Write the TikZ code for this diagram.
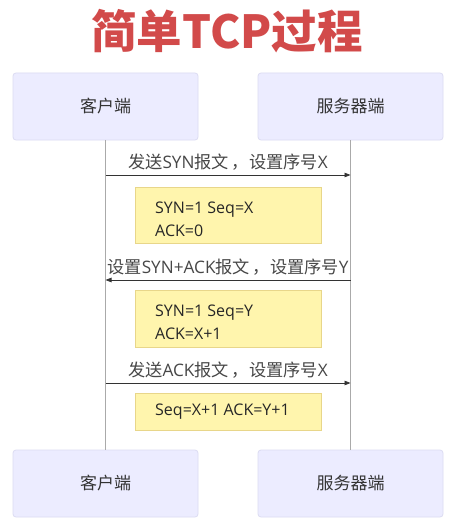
\documentclass[tikz,border=0pt]{standalone}
\usepackage{fontspec}
\setmainfont{Noto Sans CJK SC}
\newfontfamily\lat{Open Sans}
\usetikzlibrary{arrows.meta}
\definecolor{actfill}{HTML}{ECECFF}
\definecolor{actline}{HTML}{DCDCF2}
\definecolor{notefill}{HTML}{FFF5AD}
\definecolor{noteline}{HTML}{E8D68A}
\definecolor{titlered}{HTML}{D24A4A}
\definecolor{msgline}{HTML}{333333}
\definecolor{lifeline}{HTML}{AAAAAA}
\newcommand{\cm}{\hspace{3pt}，}
\begin{document}
\begin{tikzpicture}[x=1pt,y=-1pt,
  actor/.style={draw=actline,fill=actfill,rounded corners=3pt,line width=0.8pt,minimum width=185pt,minimum height=67pt,inner sep=0pt,font=\fontsize{17}{19}\selectfont,text=black!80},
  note/.style={draw=noteline,fill=notefill,line width=0.8pt,minimum width=186pt,inner sep=0pt},
  notetext/.style={anchor=west,font=\lat\fontsize{16}{18}\selectfont,text=black!85,inner sep=0pt},
  msg/.style={draw=msgline,line width=0.8pt,-{Triangle[length=6pt,width=4.5pt]}},
  msgtext/.style={font=\fontsize{17.2}{19}\selectfont,text=black!72,inner sep=0pt},
  life/.style={draw=lifeline,line width=0.8pt}]
\useasboundingbox (0,0) rectangle (454,524);
\fill[white] (0,0) rectangle (454,524);
\node[font=\fontsize{45.5}{48}\selectfont\bfseries,text=titlered] (title) at (227,31) {简单TCP过程};
\node[actor] (c1) at (105.5,106.5) {客户端};
\node[actor] (s1) at (350.5,106.5) {服务器端};
\node[actor] (c2) at (105.5,483.5) {客户端};
\node[actor] (s2) at (350.5,483.5) {服务器端};
\draw[life] (c1.south) -- (c2.north);
\draw[life] (s1.south) -- (s2.north);
\coordinate (a1l) at (105.5,175); \coordinate (a1r) at (350.5,175);
\coordinate (a2l) at (105.5,280); \coordinate (a2r) at (350.5,280);
\coordinate (a3l) at (105.5,383); \coordinate (a3r) at (350.5,383);
\draw[msg] (a1l) -- (a1r);
\draw[msg] (a2r) -- (a2l);
\draw[msg] (a3l) -- (a3r);
\node[msgtext] (m1) at (228,162) {发送{\lat SYN}报文\cm 设置序号{\lat X}};
\node[msgtext] (m2) at (228,267) {设置{\lat SYN+ACK}报文\cm 设置序号{\lat Y}};
\node[msgtext] (m3) at (228,370) {发送{\lat ACK}报文\cm 设置序号{\lat X}};
\node[note,minimum height=56pt] (n1) at (228,215) {};
\node[note,minimum height=57pt] (n2) at (228,318.5) {};
\node[note,minimum height=37pt] (n3) at (228,411.5) {};
\node[notetext] (t1a) at (155,210) {SYN=1 Seq=X};
\node[notetext] (t1b) at (155,231) {ACK=0};
\node[notetext] (t2a) at (155,313) {SYN=1 Seq=Y};
\node[notetext] (t2b) at (155,334) {ACK=X+1};
\node[notetext] (t3a) at (155,412) {Seq=X+1 ACK=Y+1};
\end{tikzpicture}
\end{document}
